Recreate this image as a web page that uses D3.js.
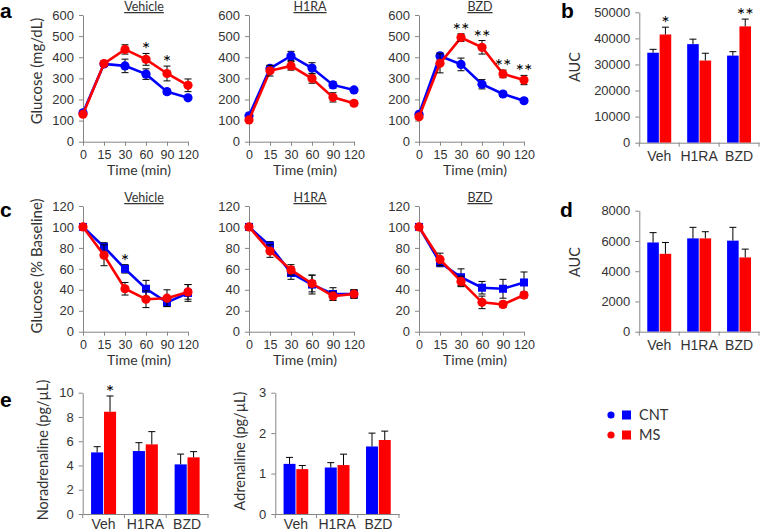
<!DOCTYPE html>
<html><head><meta charset="utf-8">
<script src="https://cdn.jsdelivr.net/npm/d3@7"></script>
<style>
body{margin:0;background:#fff;}
svg{font-family:Lato,"Open Sans",sans-serif;}
</style></head>
<body><svg id="c" width="760" height="532"></svg>
<script>
// ---------- data ----------
const timeLabels = ["0","15","30","60","90","120"];
const groups = ["Veh","H1RA","BZD"];
const seriesNames = ["CNT","MS"];

// panel a : glucose (mg/dL)
const aVehCNT = [137,368,359,320,237,208], aVehCNTerr = [8,12,32,25,13,8];
const aVehMS  = [130,370,437,390,323,267], aVehMSerr  = [8,12,22,28,35,30];
const aH1CNT  = [123,347,406,349,269,245], aH1CNTerr  = [6,15,22,25,15,8];
const aH1MS   = [103,336,359,299,210,182], aH1MSerr   = [6,25,20,22,22,12];
const aBzCNT  = [130,406,366,272,226,194], aBzCNTerr  = [8,15,30,22,12,10];
const aBzMS   = [118,371,493,447,321,292], aBzMSerr   = [8,45,18,32,18,22];
const aVehStars = ["","","","*","*",""];
const aH1Stars  = ["","","","","",""];
const aBzStars  = ["","","**","**","**","**"];

// panel b : AUC
const bCNT = [34500,37800,33400], bCNTerr = [1300,1900,1500];
const bMS  = [41500,31500,44600], bMSerr  = [2800,2800,2800];
const bStars = ["*","","**"];

// panel c : glucose (% baseline)
const cVehCNT = [100,81,60,41,28,37], cVehCNTerr = [0,4,4,8,4,8];
const cVehMS  = [100,73,41,31,32,38], cVehMSerr  = [0,10,6,8,8,7];
const cH1CNT  = [100,82,56,45,36,36], cH1CNTerr  = [0,4,6,9,6,4];
const cH1MS   = [100,77,59,46,34,36], cH1MSerr   = [0,6,5,8,4,4];
const cBzCNT  = [100,66,52,42,41,47], cBzCNTerr  = [0,4,8,6,9,10];
const cBzMS   = [100,69,48,28,26,35], cBzMSerr   = [0,6,5,6,3,3];
const cVehStars = ["","","*","","",""];
const cNoStars  = ["","","","","",""];

// panel d : AUC
const dCNT = [5900,6170,6020], dCNTerr = [650,730,880];
const dMS  = [5150,6170,4910], dMSerr  = [750,440,550];
const dStars = ["","",""];

// panel e : catecholamines
const eNorCNT = [5.08,5.19,4.09], eNorCNTerr = [0.47,0.69,0.85];
const eNorMS  = [8.43,5.74,4.67], eNorMSerr  = [1.3,1.05,0.47];
const eNorStars = ["*","",""];
const eAdrCNT = [1.24,1.15,1.67], eAdrCNTerr = [0.16,0.12,0.33];
const eAdrMS  = [1.11,1.21,1.83], eAdrMSerr  = [0.09,0.27,0.22];
const eAdrStars = ["","",""];

// ---------- style ----------
const BLUE = "#0000ff", RED = "#ff0000", AXIS = "#868686", TXT = "#333";
const svg = d3.select("#c");
const fmt = d3.format("d");

function styleAxis(g, fs){
  g.select(".domain").attr("stroke", AXIS).attr("stroke-width", 1);
  g.selectAll(".tick line").attr("stroke", AXIS);
  g.selectAll(".tick text").attr("fill", TXT).attr("font-size", fs);
}

function lineChart(o){
  const g = svg.append("g");
  const x = d3.scalePoint().domain(timeLabels).range([o.x0, o.x0 + 105]).padding(0);
  const y = d3.scaleLinear().domain([0, o.yMax]).range([o.yBot, o.yTop]);
  const ya = g.append("g").attr("transform", `translate(${o.x0},0)`)
    .call(d3.axisLeft(y).tickValues(d3.range(0, o.yMax + 1e-9, o.yStep)).tickFormat(fmt).tickSize(4).tickSizeOuter(0).tickPadding(5));
  styleAxis(ya, 13);
  const xa = g.append("g").attr("transform", `translate(0,${o.yBot})`)
    .call(d3.axisBottom(x).tickSize(4).tickSizeOuter(0).tickPadding(4));
  styleAxis(xa, 12.5);
  g.append("text").attr("x", o.x0 + 61).attr("y", o.yTop - 4)
    .attr("text-anchor","middle").attr("font-size",12.5).attr("fill",TXT)
    .attr("text-decoration","underline").text(o.title);
  g.append("text").attr("x", o.x0 + 56).attr("y", o.yBot + 33)
    .attr("text-anchor","middle").attr("font-size",14).attr("fill",TXT).text("Time (min)");
  const series = [
    {v:o.cnt, e:o.cntErr, c:BLUE, shape:o.cntShape||"circle"},
    {v:o.ms,  e:o.msErr,  c:RED,  shape:"circle"}
  ];
  const line = d3.line().x((d,i)=>x(timeLabels[i])).y(d=>y(d));
  series.forEach(s=>{
    g.append("path").datum(s.v).attr("d", line).attr("fill","none")
      .attr("stroke", s.c).attr("stroke-width", 2.6);
    s.v.forEach((v,i)=>{
      const cx = x(timeLabels[i]);
      if (s.e[i] > 0){
        const y1 = y(v + s.e[i]), y2 = y(v - s.e[i]);
        g.append("line").attr("x1",cx).attr("x2",cx).attr("y1",y1).attr("y2",y2).attr("stroke","#000").attr("stroke-width",1);
        [y1,y2].forEach(yy=>g.append("line").attr("x1",cx-3.5).attr("x2",cx+3.5).attr("y1",yy).attr("y2",yy).attr("stroke","#000").attr("stroke-width",1));
      }
      if (s.shape === "square"){
        g.append("rect").attr("x",cx-4).attr("y",y(v)-4).attr("width",8).attr("height",8).attr("fill",s.c);
      } else {
        g.append("circle").attr("cx",cx).attr("cy",y(v)).attr("r",4.6).attr("fill",s.c);
      }
    });
  });
  o.stars.forEach((st,i)=>{
    if(!st) return;
    const top = Math.max(o.cnt[i]+o.cntErr[i], o.ms[i]+o.msErr[i]);
    g.append("text").attr("x", x(timeLabels[i])).attr("y", y(top) + 3)
      .attr("text-anchor","middle").attr("font-size",20).attr("fill","#000").text(st);
  });
}

function barChart(o){
  const g = svg.append("g");
  const x = d3.scaleBand().domain(groups).range([o.x0, o.x1]).padding(0);
  const y = d3.scaleLinear().domain([0, o.yMax]).range([o.yBot, o.yTop]);
  const ya = g.append("g").attr("transform", `translate(${o.x0},0)`)
    .call(d3.axisLeft(y).tickValues(d3.range(0, o.yMax + 1e-9, o.yStep)).tickFormat(fmt).tickSize(4).tickSizeOuter(0).tickPadding(5));
  styleAxis(ya, 13);
  const bw = x.bandwidth() * 0.29;
  const series = [
    {v:o.cnt, e:o.cntErr, c:BLUE, off:-bw - 0.4},
    {v:o.ms,  e:o.msErr,  c:RED,  off:0.4}
  ];
  series.forEach(s=>{
    s.v.forEach((v,i)=>{
      const cx = x(groups[i]) + x.bandwidth()/2;
      const bx = cx + s.off;
      g.append("rect").attr("x",bx).attr("y",y(v)).attr("width",bw).attr("height",o.yBot - y(v)).attr("fill",s.c);
      const mx = bx + bw/2, yt = y(v + s.e[i]);
      g.append("line").attr("x1",mx).attr("x2",mx).attr("y1",y(v)).attr("y2",yt).attr("stroke","#000").attr("stroke-width",1);
      g.append("line").attr("x1",mx-3.5).attr("x2",mx+3.5).attr("y1",yt).attr("y2",yt).attr("stroke","#000").attr("stroke-width",1);
      if (s.c === RED && o.stars[i]){
        const top = Math.max(v + s.e[i], o.cnt[i] + o.cntErr[i]);
        g.append("text").attr("x",mx).attr("y",y(top)+3).attr("text-anchor","middle")
          .attr("font-size",20).attr("fill","#000").text(o.stars[i]);
      }
    });
  });
  const xa = g.append("g").attr("transform", `translate(0,${o.yBot})`)
    .call(d3.axisBottom(x).tickSize(0).tickSizeOuter(0).tickPadding(o.labPad));
  styleAxis(xa, 14);
  groups.concat(["_end"]).forEach((c,i)=>{
    const xx = i < groups.length ? x(c) : x(groups[groups.length-1]) + x.bandwidth();
    g.append("line").attr("x1",xx).attr("x2",xx).attr("y1",o.yBot).attr("y2",o.yBot+4).attr("stroke",AXIS);
  });
  g.append("text").attr("transform",`translate(${o.labelX},${o.labelY}) rotate(-90)`)
    .attr("text-anchor","middle").attr("dy","0.35em").attr("font-size",14.5).attr("fill",TXT).text(o.yLabel);
}

// ---------- panel a ----------
lineChart({x0:83,  yTop:15, yBot:141.7, yMax:600, yStep:100, cnt:aVehCNT, cntErr:aVehCNTerr, ms:aVehMS, msErr:aVehMSerr, stars:aVehStars, title:"Vehicle"});
lineChart({x0:249, yTop:15, yBot:141.7, yMax:600, yStep:100, cnt:aH1CNT, cntErr:aH1CNTerr, ms:aH1MS, msErr:aH1MSerr, stars:aH1Stars, title:"H1RA"});
lineChart({x0:419, yTop:15, yBot:141.7, yMax:600, yStep:100, cnt:aBzCNT, cntErr:aBzCNTerr, ms:aBzMS, msErr:aBzMSerr, stars:aBzStars, title:"BZD"});
svg.append("text").attr("transform","translate(37,71) rotate(-90)").attr("text-anchor","middle").attr("dy","0.35em")
  .attr("font-size",15).attr("fill",TXT).text("Glucose (mg/dL)");

// ---------- panel c ----------
lineChart({x0:83,  yTop:206, yBot:331.7, yMax:120, yStep:20, cnt:cVehCNT, cntErr:cVehCNTerr, ms:cVehMS, msErr:cVehMSerr, stars:cVehStars, title:"Vehicle", cntShape:"square"});
lineChart({x0:249, yTop:206, yBot:331.7, yMax:120, yStep:20, cnt:cH1CNT, cntErr:cH1CNTerr, ms:cH1MS, msErr:cH1MSerr, stars:cNoStars, title:"H1RA", cntShape:"square"});
lineChart({x0:419, yTop:206, yBot:331.7, yMax:120, yStep:20, cnt:cBzCNT, cntErr:cBzCNTerr, ms:cBzMS, msErr:cBzMSerr, stars:cNoStars, title:"BZD", cntShape:"square"});
svg.append("text").attr("transform","translate(37,266) rotate(-90)").attr("text-anchor","middle").attr("dy","0.35em")
  .attr("font-size",15).attr("fill",TXT).text("Glucose (% Baseline)");

// ---------- panels b, d ----------
barChart({x0:639.3, x1:759, yTop:12.3, yBot:142.7, yMax:50000, yStep:10000, cnt:bCNT, cntErr:bCNTerr, ms:bMS, msErr:bMSerr, stars:bStars, yLabel:"AUC", labelX:575, labelY:67, labPad:8});
barChart({x0:639.3, x1:759, yTop:210.7, yBot:331.7, yMax:8000, yStep:2000, cnt:dCNT, cntErr:dCNTerr, ms:dMS, msErr:dMSerr, stars:dStars, yLabel:"AUC", labelX:575, labelY:262, labPad:8});

// ---------- panel e ----------
barChart({x0:82.7, x1:208, yTop:392.7, yBot:514, yMax:10, yStep:2, cnt:eNorCNT, cntErr:eNorCNTerr, ms:eNorMS, msErr:eNorMSerr, stars:eNorStars, yLabel:"Noradrenaline (pg/\u00b5L)", labelX:43, labelY:450, labPad:5});
barChart({x0:275.3, x1:399, yTop:392.7, yBot:514, yMax:3, yStep:1, cnt:eAdrCNT, cntErr:eAdrCNTerr, ms:eAdrMS, msErr:eAdrMSerr, stars:eAdrStars, yLabel:"Adrenaline (pg/\u00b5L)", labelX:240, labelY:451, labPad:5});

// ---------- legend ----------
const legend = svg.append("g");
seriesNames.forEach((n,i)=>{
  const c = i === 0 ? BLUE : RED, yy = 415 + i*20;
  legend.append("circle").attr("cx",611).attr("cy",yy).attr("r",3.6).attr("fill",c);
  legend.append("rect").attr("x",622).attr("y",yy-4.5).attr("width",9).attr("height",9).attr("fill",c);
  legend.append("text").attr("x",639).attr("y",yy).attr("dy","0.35em").attr("font-size",14.5).attr("fill",TXT).text(n);
});

// ---------- panel letters ----------
[["a",0,18],["b",561,18],["c",0,217],["d",560,217],["e",0,407]].forEach(([l,x,y])=>{
  svg.append("text").attr("x",x).attr("y",y).attr("font-family","Liberation Sans, Arial, sans-serif")
    .attr("font-weight","bold").attr("font-size",21).attr("fill","#000").text(l);
});
</script></body></html>
